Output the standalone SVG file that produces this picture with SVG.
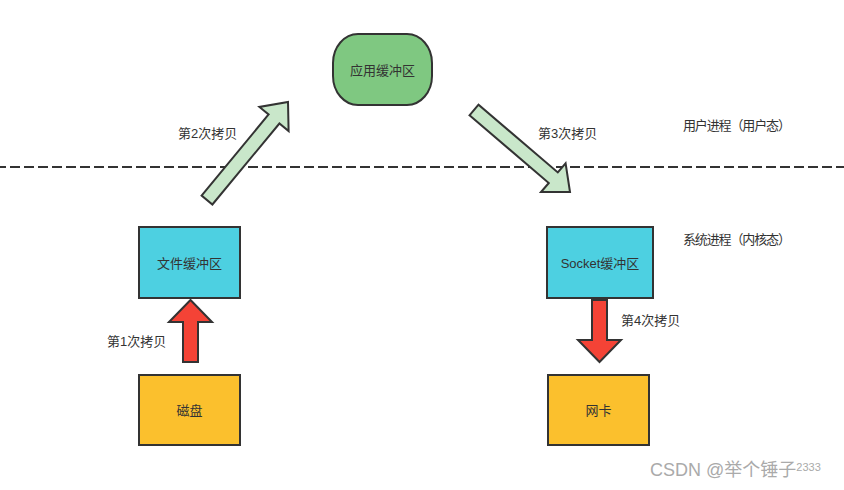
<svg xmlns="http://www.w3.org/2000/svg" width="844" height="490" viewBox="0 0 844 490">
<style>
.node{stroke:#333;stroke-width:2}
.lbl{font-family:"Liberation Sans","Noto Sans CJK SC",sans-serif;font-size:13px;fill:#333}
.ctr{text-anchor:middle;dominant-baseline:central}
.green{fill:#C9E7CA;stroke:#333;stroke-width:2;stroke-linejoin:miter}
.red{fill:#F44336;stroke:#333;stroke-width:2;stroke-linejoin:miter}
.wm{font-family:"Liberation Sans","Noto Sans CJK SC",sans-serif;fill:#aaa}
</style>
<rect width="844" height="490" fill="#fff"/>
<g id="connectors">
  <line x1="0" y1="167" x2="844" y2="167" stroke="#333" stroke-width="2" stroke-dasharray="10,4" stroke-dashoffset="4"/>
  <polygon id="copy2" class="green" points="212.4,204.5 279.4,123.5 288.6,131.1 288,102 259.4,106.9 268.6,114.5 201.6,195.5"/>
  <polygon id="copy3" class="green" points="469.5,115.3 548.8,183 541,192.1 570,192 565.6,163.3 557.8,172.4 478.5,104.7"/>
  <polygon id="copy1" class="red" points="183,362 198,362 198,322 212,322 190.5,300 169,322 183,322"/>
  <polygon id="copy4" class="red" points="592,300 607,300 607,340 621,340 599.5,362 578,340 592,340"/>
  <text class="lbl" x="178" y="138">第2次拷贝</text>
  <text class="lbl" x="538" y="138">第3次拷贝</text>
  <text class="lbl" x="107" y="346">第1次拷贝</text>
  <text class="lbl" x="621" y="325">第4次拷贝</text>
</g>
<g id="app-buffer">
  <rect class="node" x="333" y="34" width="99" height="71" rx="25" ry="29" fill="#7FC881"/>
  <text class="lbl ctr" x="382.5" y="70">应用缓冲区</text>
</g>
<g id="file-buffer">
  <rect class="node" x="139" y="227" width="101" height="71" fill="#4DD0E1"/>
  <text class="lbl ctr" x="189.5" y="263">文件缓冲区</text>
</g>
<g id="socket-buffer">
  <rect class="node" x="547" y="227" width="106" height="71" fill="#4DD0E1"/>
  <text class="lbl ctr" x="600" y="263">Socket缓冲区</text>
</g>
<g id="disk">
  <rect class="node" x="139" y="375" width="101" height="70" fill="#FBC02D"/>
  <text class="lbl ctr" x="189.5" y="410">磁盘</text>
</g>
<g id="nic">
  <rect class="node" x="548" y="375" width="101" height="70" fill="#FBC02D"/>
  <text class="lbl ctr" x="598.5" y="410">网卡</text>
</g>
<g id="user-mode">
  <text class="lbl" x="683" y="130" textLength="108" lengthAdjust="spacing">用户进程（用户态）</text>
</g>
<g id="kernel-mode">
  <text class="lbl" x="683" y="244" textLength="108" lengthAdjust="spacing">系统进程（内核态）</text>
</g>
<g id="watermark">
  <text class="wm" x="650" y="476" font-size="18">CSDN @举个锤子<tspan font-size="11" dy="-5">2333</tspan></text>
</g>
</svg>
